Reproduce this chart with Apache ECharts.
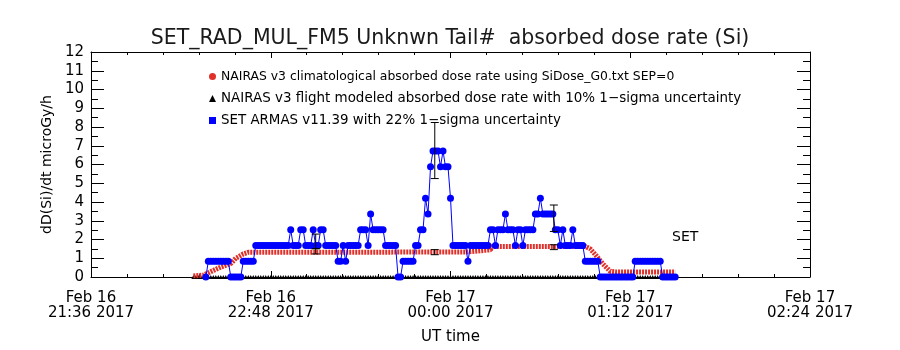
<!DOCTYPE html>
<html>
<head>
<meta charset="utf-8">
<script src="https://cdn.jsdelivr.net/npm/echarts@6/dist/echarts.min.js"></script>
<style>
  html, body { margin: 0; padding: 0; background: #fff; }
  #container { width: 900px; height: 350px; }
</style>
</head>
<body>
<div id="container"></div>
<script>
// x values are minutes after Feb 16 2017 21:36 UT
const timeLabels = [
  "Feb 16\n21:36 2017",
  "Feb 16\n22:48 2017",
  "Feb 17\n00:00 2017",
  "Feb 17\n01:12 2017",
  "Feb 17\n02:24 2017",
];

// SET ARMAS dose rate, one reading per minute starting at minute 46
const armasStart = 46;
const armasDose = [
  0, 0.84, 0.84, 0.84, 0.84, 0.84, 0.84, 0.84, 0.84, 0.84,
  0, 0, 0, 0, 0, 0.84, 0.84, 0.84, 0.84, 0.84,
  1.68, 1.68, 1.68, 1.68, 1.68, 1.68, 1.68, 1.68, 1.68, 1.68,
  1.68, 1.68, 1.68, 1.68, 2.52, 1.68, 1.68, 1.68, 2.52, 2.52,
  1.68, 1.68, 1.68, 2.52, 1.68, 1.68, 2.52, 2.52, 1.68, 1.68,
  1.68, 1.68, 1.68, 0.84, 0.84, 1.68, 0.84, 1.68, 1.68, 1.68,
  1.68, 1.68, 2.52, 2.52, 2.52, 1.68, 3.36, 2.52, 2.52, 2.52,
  2.52, 2.52, 1.68, 1.68, 1.68, 1.68, 1.68, 0, 0, 0.84,
  0.84, 0.84, 0.84, 0.84, 1.68, 1.68, 2.52, 2.52, 4.2, 3.36,
  5.88, 6.72, 6.72, 6.72, 5.88, 6.72, 5.88, 5.88, 4.2, 1.68,
  1.68, 1.68, 1.68, 1.68, 1.68, 0.84, 1.68, 1.68, 1.68, 1.68,
  1.68, 1.68, 1.68, 1.68, 2.52, 2.52, 1.68, 2.52, 2.52, 2.52,
  3.36, 2.52, 2.52, 2.52, 1.68, 2.52, 2.52, 1.68, 2.52, 2.52,
  2.52, 2.52, 3.36, 3.36, 4.2, 3.36, 3.36, 3.36, 3.36, 3.36,
  2.52, 2.52, 1.68, 2.52, 1.68, 1.68, 1.68, 2.52, 1.68, 1.68,
  1.68, 1.68, 0.84, 0.84, 0.84, 0.84, 0.84, 0.84, 0, 0,
  0, 0, 0, 0, 0, 0, 0, 0, 0, 0,
  0, 0, 0.84, 0.84, 0.84, 0.84, 0.84, 0.84, 0.84, 0.84,
  0.84, 0.84, 0.84, 0, 0, 0, 0, 0, 0,
];

// NAIRAS climatological curve [minute, dose]
const nairasClim = [
  [41, 0.06], [45, 0.1], [49, 0.35], [52, 0.53], [56, 0.72], [58, 1.0],
  [61, 1.23], [63, 1.32], [150, 1.33], [160, 1.45], [160.5, 1.63],
  [198, 1.63], [200, 1.5], [202, 1.2], [205, 0.7], [208, 0.3],
  [210, 0.27], [234, 0.27],
];

// NAIRAS flight modeled: one reading per minute, all at zero
const modelStart = 41;
const modelEnd = 234;
const modelDose = 0;

// error bars [minute, low, high]
const armasErr = [[90, 1.51, 2.29], [137.7, 5.25, 8.24], [185.4, 2.43, 3.84]];
const nairasErr = [[90, 1.23, 1.51], [137.7, 1.19, 1.46], [185.4, 1.46, 1.72]];

const names = [
  "NAIRAS v3 climatological absorbed dose rate using SiDose_G0.txt SEP=0",
  "NAIRAS v3 flight modeled absorbed dose rate with 10% 1\u2212sigma uncertainty",
  "SET ARMAS v11.39 with 22% 1\u2212sigma uncertainty",
];

const font = "DejaVu Sans";
const dom = document.getElementById("container");
const myChart = echarts.init(dom, null, { renderer: "canvas" });

const armasData = armasDose.map((v, i) => [armasStart + i, v]);
const modelData = [];
for (let t = modelStart; t <= modelEnd; t++) modelData.push([t, modelDose]);

function errItem(params, api) {
  const top = api.coord([api.value(0), api.value(2)]);
  const bot = api.coord([api.value(0), api.value(1)]);
  const w = 4;
  const st = { stroke: "#000", lineWidth: 1 };
  return {
    type: "group",
    children: [
      { type: "line", shape: { x1: top[0], y1: top[1], x2: bot[0], y2: bot[1] }, style: st },
      { type: "line", shape: { x1: top[0] - w, y1: top[1], x2: top[0] + w, y2: top[1] }, style: st },
      { type: "line", shape: { x1: bot[0] - w, y1: bot[1], x2: bot[0] + w, y2: bot[1] }, style: st },
    ],
  };
}

const tickAxis = {
  axisLine: { show: true, onZero: false, lineStyle: { color: "#000", width: 1 } },
  splitLine: { show: false },
};

const legendText = (size) => ({ fontFamily: font, fontSize: size, color: "#000", lineHeight: 13 });

const option = {
  animation: false,
  title: {
    text: "SET_RAD_MUL_FM5 Unknwn Tail#  absorbed dose rate (Si)",
    left: "center",
    top: 23,
    textStyle: { fontFamily: font, fontSize: 20.5, fontWeight: "normal", color: "#1a1a1a" },
  },
  legend: {
    orient: "vertical",
    left: 209,
    top: 70,
    itemWidth: 7,
    itemHeight: 7,
    itemGap: 9,
    padding: 0,
    selectedMode: false,
    textStyle: legendText(13),
    data: [
      { name: names[0], icon: "circle", itemStyle: { color: "#e0302a" }, textStyle: legendText(12.4) },
      { name: names[1], icon: "triangle", itemStyle: { color: "#000" }, textStyle: legendText(13.45) },
      { name: names[2], icon: "rect", itemStyle: { color: "#0000ff" }, textStyle: legendText(13.4) },
    ],
  },
  grid: { left: 91, right: 90, top: 52, bottom: 71 },
  xAxis: [
    {
      ...tickAxis,
      type: "value",
      min: 0,
      max: 288,
      interval: 72,
      name: "UT time",
      nameLocation: "middle",
      nameGap: 53,
      nameTextStyle: { fontFamily: font, fontSize: 15, color: "#000" },
      axisTick: { show: true, inside: true, length: 6, lineStyle: { color: "#000" } },
      minorTick: { show: true, splitNumber: 5, length: 3, lineStyle: { color: "#000" } },
      axisLabel: {
        margin: 14,
        fontFamily: font,
        fontSize: 15,
        lineHeight: 15,
        color: "#000",
        formatter: (v) => timeLabels[Math.round(v / 72)],
      },
    },
    {
      ...tickAxis,
      type: "value",
      position: "top",
      min: 0,
      max: 288,
      interval: 72,
      axisTick: { show: true, inside: true, length: 6, lineStyle: { color: "#000" } },
      minorTick: { show: true, splitNumber: 5, length: 3, lineStyle: { color: "#000" } },
      axisLabel: { show: false },
    },
  ],
  yAxis: [
    {
      ...tickAxis,
      type: "value",
      min: 0,
      max: 12,
      interval: 1,
      name: "dD(Si)/dt microGy/h",
      nameLocation: "middle",
      nameGap: 37,
      nameTextStyle: { fontFamily: font, fontSize: 14, color: "#000" },
      axisTick: { show: true, inside: true, length: 13, lineStyle: { color: "#000" } },
      minorTick: { show: true, splitNumber: 2, length: 7, lineStyle: { color: "#000" } },
      axisLabel: { margin: 7, fontFamily: font, fontSize: 15, color: "#000" },
    },
    {
      ...tickAxis,
      type: "value",
      position: "right",
      min: 0,
      max: 12,
      interval: 1,
      axisTick: { show: true, inside: true, length: 13, lineStyle: { color: "#000" } },
      minorTick: { show: true, splitNumber: 2, length: 7, lineStyle: { color: "#000" } },
      axisLabel: { show: false },
    },
  ],
  graphic: [
    {
      type: "text",
      left: 672,
      top: 230,
      style: { text: "SET", fontFamily: font, fontSize: 14, fill: "#000" },
    },
  ],
  series: [
    {
      name: names[1],
      type: "line",
      data: modelData,
      symbol: "triangle",
      symbolSize: 4,
      itemStyle: { color: "#000" },
      lineStyle: { width: 0 },
      z: 2,
    },
    {
      name: names[0],
      type: "line",
      data: nairasClim,
      symbol: "none",
      itemStyle: { color: "#e0302a" },
      lineStyle: { color: "#e0302a", width: 5, type: [2, 1] },
      z: 3,
    },
    {
      name: names[2],
      type: "line",
      data: armasData,
      symbol: "circle",
      symbolSize: 7,
      itemStyle: { color: "#0000ff" },
      lineStyle: { color: "#0000ff", width: 1 },
      z: 4,
    },
    {
      type: "custom",
      data: armasErr,
      renderItem: errItem,
      z: 5,
    },
    {
      type: "custom",
      data: nairasErr,
      renderItem: errItem,
      z: 5,
    },
  ],
};

myChart.setOption(option);
</script>
</body>
</html>
